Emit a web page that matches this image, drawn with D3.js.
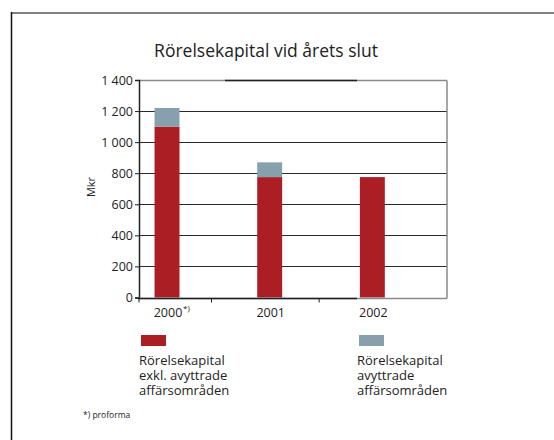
<!DOCTYPE html>
<html>
<head>
<meta charset="utf-8">
<script src="https://cdn.jsdelivr.net/npm/d3@7"></script>
<style>
  body { margin: 0; background: #fff; }
  text { font-family: "Open Sans", "Noto Sans", sans-serif; fill: #222; }
</style>
</head>
<body>
<div id="container"></div>
<script>
const years = ['2000', '2001', '2002']
const yearNotes = ['*)', '', '']
const exklValues = [1100, 775, 775]
const avyttradeValues = [120, 95, 0]
const yTicks = [0, 200, 400, 600, 800, 1000, 1200, 1400]
const seriesNames = [
  ['Rörelsekapital', 'exkl. avyttrade', 'affärsområden'],
  ['Rörelsekapital', 'avyttrade', 'affärsområden']
]
const seriesColours = ['#ab1e24', '#86a0ae']

const w = 554
const h = 440

const svg = d3.select('#container')
  .append('svg')
  .attr('width', w)
  .attr('height', h)

// frame: grey top rule, black left rule
svg.append('line')
  .attr('x1', 11).attr('x2', w).attr('y1', 13).attr('y2', 13)
  .attr('stroke', '#808080').attr('stroke-width', 2)
svg.append('line')
  .attr('x1', 11.5).attr('x2', 11.5).attr('y1', 12).attr('y2', h)
  .attr('stroke', '#111').attr('stroke-width', 1.5)

svg.append('text')
  .attr('x', 266)
  .attr('y', 57)
  .attr('text-anchor', 'middle')
  .style('font-size', '17.5px')
  .text('Rörelsekapital vid årets slut')

const left = 139
const right = 447
const y = d3.scaleLinear().domain([0, 1400]).range([297.5, 80])

const x = d3.scaleBand()
  .domain(years)
  .range([left, right])
  .paddingInner(0.757)
  .paddingOuter(0.3785)
  .align(0.2)

// gridlines
svg.selectAll('.grid')
  .data(yTicks.filter(t => t > 0 && t < 1400))
  .enter()
  .append('line')
  .attr('class', 'grid')
  .attr('x1', left).attr('x2', right)
  .attr('y1', d => Math.round(y(d)) + 0.5)
  .attr('y2', d => Math.round(y(d)) + 0.5)
  .attr('stroke', '#2a2a2a')
  .attr('stroke-width', 1)

// top rule, right border
const yTop = Math.round(y(1400)) + 0.5
svg.append('line')
  .attr('x1', left).attr('x2', right).attr('y1', yTop).attr('y2', yTop)
  .attr('stroke', '#8a8a8a').attr('stroke-width', 1.5)
svg.append('line')
  .attr('x1', 225).attr('x2', 357).attr('y1', yTop).attr('y2', yTop)
  .attr('stroke', '#222').attr('stroke-width', 1.5)
svg.append('line')
  .attr('x1', right).attr('x2', right).attr('y1', yTop).attr('y2', y(0) + 1)
  .attr('stroke', '#8a8a8a').attr('stroke-width', 1.5)

// stacked bars
const stackData = years.map((yr, i) => ({ year: yr, exkl: exklValues[i], avy: avyttradeValues[i] }))
const stacked = d3.stack().keys(['exkl', 'avy'])(stackData)

svg.selectAll('.series')
  .data(stacked)
  .enter()
  .append('g')
  .attr('fill', (d, i) => seriesColours[i])
  .selectAll('rect')
  .data(d => d)
  .enter()
  .append('rect')
  .attr('x', d => x(d.data.year))
  .attr('width', x.bandwidth())
  .attr('y', d => y(d[1]))
  .attr('height', d => y(d[0]) - y(d[1]))

// y axis
const yAxis = svg.append('g')
  .attr('transform', 'translate(' + left + ',0)')
  .call(d3.axisLeft(y).tickValues(yTicks).tickSize(4).tickPadding(2)
    .tickFormat(d => d3.format(',')(d).replace(',', ' ')))
yAxis.select('.domain').attr('stroke', '#222').attr('stroke-width', 1.5)
yAxis.selectAll('.tick line').attr('stroke', '#222')
yAxis.selectAll('text').style('font-size', '12.5px').attr('fill', '#222')

// x axis line
const y0 = Math.round(y(0)) + 0.5
svg.append('line')
  .attr('x1', left - 1).attr('x2', right).attr('y1', y0).attr('y2', y0)
  .attr('stroke', '#8a8a8a').attr('stroke-width', 1.5)
svg.append('line')
  .attr('x1', left - 1).attr('x2', 357).attr('y1', y0).attr('y2', y0)
  .attr('stroke', '#222').attr('stroke-width', 1.5)

// x ticks between categories
const xTicks = [left, x(years[0]) + x.bandwidth() + 32, x(years[1]) + x.bandwidth() + 37]
svg.selectAll('.xtick')
  .data(xTicks)
  .enter()
  .append('line')
  .attr('x1', d => d).attr('x2', d => d)
  .attr('y1', y0).attr('y2', y0 + 4)
  .attr('stroke', '#222')

svg.selectAll('.xlabel')
  .data(years)
  .enter()
  .append('text')
  .attr('x', d => x(d) + x.bandwidth() / 2 + 1)
  .attr('y', 317)
  .attr('text-anchor', 'middle')
  .style('font-size', '12.5px')
  .text(d => d)

years.forEach((yr, i) => {
  if (yearNotes[i]) {
    svg.append('text')
      .attr('x', x(yr) + x.bandwidth() / 2 + 16)
      .attr('y', 311)
      .style('font-size', '8px')
      .text(yearNotes[i])
  }
})

svg.append('text')
  .attr('transform', 'translate(95,187) rotate(-90)')
  .attr('text-anchor', 'middle')
  .style('font-size', '11px')
  .text('Mkr')

// legend
const legendX = [141, 359]
seriesNames.forEach((lines, i) => {
  svg.append('rect')
    .attr('x', legendX[i]).attr('y', 335)
    .attr('width', 25).attr('height', 11)
    .attr('fill', seriesColours[i])
  svg.append('text')
    .attr('x', legendX[i] - 2)
    .attr('y', 365)
    .style('font-size', '13px')
    .selectAll('tspan')
    .data(lines)
    .enter()
    .append('tspan')
    .attr('x', legendX[i] - 2)
    .attr('dy', (d, j) => j === 0 ? 0 : 15)
    .text(d => d)
})

svg.append('text')
  .attr('x', 83)
  .attr('y', 418)
  .style('font-size', '8.5px')
  .text('*) proforma')
</script>
</body>
</html>
